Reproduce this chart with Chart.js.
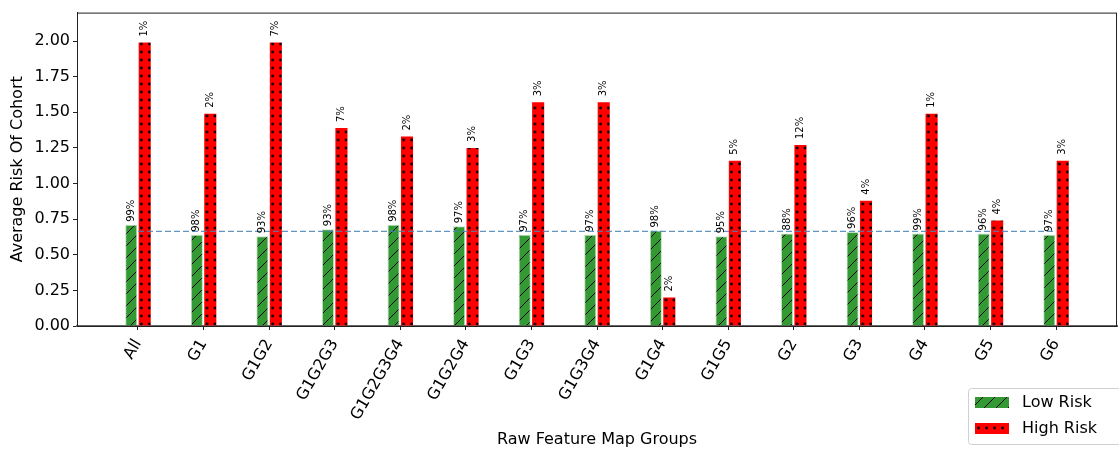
<!DOCTYPE html>
<html>
<head>
<meta charset="utf-8">
<script src="https://cdn.jsdelivr.net/npm/chart.js@4"></script>
<style>
  body { margin: 0; background: #fff; }
  #wrap { width: 1119px; height: 450px; }
</style>
</head>
<body>
<div id="wrap"><canvas id="chart1"></canvas></div>
<script>
var groups = ["All", "G1", "G1G2", "G1G2G3", "G1G2G3G4", "G1G2G4", "G1G3", "G1G3G4",
  "G1G4", "G1G5", "G2", "G3", "G4", "G5", "G6"];
var lowRisk = [0.71, 0.64, 0.63, 0.68, 0.71, 0.70, 0.64, 0.64, 0.67, 0.63, 0.65, 0.66, 0.65, 0.65, 0.64];
var highRisk = [1.99, 1.49, 1.99, 1.39, 1.33, 1.25, 1.57, 1.57, 0.20, 1.16, 1.27, 0.88, 1.49, 0.74, 1.16];
var lowPct = [99, 98, 93, 93, 98, 97, 97, 97, 98, 95, 88, 96, 99, 96, 97];
var highPct = [1, 2, 7, 7, 2, 3, 3, 3, 2, 5, 12, 4, 1, 4, 3];
var meanRisk = 0.664;
var yTicks = [0, 0.25, 0.5, 0.75, 1.0, 1.25, 1.5, 1.75, 2.0];

var FONT = "'DejaVu Sans', sans-serif";

// hatch tiles like matplotlib "/" and "."
var greenTile = document.createElement("canvas");
greenTile.width = 12; greenTile.height = 12;
(function () {
  var g = greenTile.getContext("2d");
  g.fillStyle = "rgba(0,128,0,0.8)";
  g.fillRect(0, 0, 12, 12);
  g.strokeStyle = "#000";
  g.lineWidth = 1;
  g.beginPath();
  g.moveTo(0, 12); g.lineTo(12, 0);
  g.moveTo(-6, 6); g.lineTo(6, -6);
  g.moveTo(6, 18); g.lineTo(18, 6);
  g.stroke();
})();
var redTile = document.createElement("canvas");
redTile.width = 8; redTile.height = 8;
(function () {
  var g = redTile.getContext("2d");
  g.fillStyle = "#ff0000";
  g.fillRect(0, 0, 8, 8);
  g.fillStyle = "#000";
  g.beginPath();
  g.arc(2.5, 4, 1.4, 0, Math.PI * 2);
  g.fill();
})();

var ctx = document.getElementById("chart1");
var c2d = ctx.getContext("2d");
var greenFill = c2d.createPattern(greenTile, "repeat");
var redFill = c2d.createPattern(redTile, "repeat");

// dots anchored to each bar's left edge so every bar gets two columns
function redAt(context) {
  var sx = context.chart.scales.x;
  if (context.type !== "data" || !sx || !sx.width) return redFill;
  var p = c2d.createPattern(redTile, "repeat");
  var left = sx.getPixelForValue(context.dataIndex) + 0.9;
  p.setTransform(new DOMMatrix().translate(left, 0));
  return p;
}

var extras = {
  id: "extras",
  afterDatasetsDraw: function (chart) {
    var ctx = chart.ctx;
    ctx.save();
    ctx.fillStyle = "#000";
    ctx.font = "10px " + FONT;
    ctx.textAlign = "left";
    ctx.textBaseline = "middle";
    [[0, lowPct, 3], [1, highPct, 6]].forEach(function (s) {
      var meta = chart.getDatasetMeta(s[0]);
      meta.data.forEach(function (bar, i) {
        ctx.save();
        ctx.translate(bar.x, bar.y - s[2]);
        ctx.rotate(-Math.PI / 2);
        ctx.fillText(s[1][i] + "%", 0, 0);
        ctx.restore();
      });
    });
    ctx.restore();
  },
  afterDraw: function (chart) {
    var ctx = chart.ctx, a = chart.chartArea;
    ctx.save();
    ctx.strokeStyle = "#222";
    ctx.lineWidth = 1;
    ctx.strokeRect(a.left + 0.5, a.top + 0.5, a.right - a.left - 1, a.bottom - a.top);
    // axis titles
    ctx.fillStyle = "#000";
    ctx.font = "16px " + FONT;
    ctx.textAlign = "center";
    ctx.textBaseline = "middle";
    ctx.fillText("Raw Feature Map Groups", (a.left + a.right) / 2, 440);
    ctx.save();
    ctx.translate(18, (a.top + a.bottom) / 2);
    ctx.rotate(-Math.PI / 2);
    ctx.fillText("Average Risk Of Cohort", 0, 0);
    ctx.restore();
    // legend
    ctx.fillStyle = "rgba(255,255,255,0.8)";
    ctx.strokeStyle = "#d0d0d0";
    ctx.beginPath();
    ctx.roundRect(968.5, 388.5, 160, 56, 3);
    ctx.fill();
    ctx.stroke();
    ctx.fillStyle = greenFill;
    ctx.fillRect(975, 397, 34, 11);
    ctx.fillStyle = redFill;
    ctx.fillRect(975, 423, 34, 11);
    ctx.fillStyle = "#000";
    ctx.textAlign = "left";
    ctx.fillText("Low Risk", 1022, 403);
    ctx.fillText("High Risk", 1022, 429);
    ctx.restore();
  }
};

var myChart = new Chart(ctx, {
  type: "bar",
  data: {
    datasets: [
      {
        label: "Low Risk",
        data: lowRisk.map(function (v, i) { return { x: i, y: v }; }),
        backgroundColor: greenFill,
        borderColor: "rgba(0,128,0,0.25)",
        borderWidth: 1,
        order: 1,
      },
      {
        label: "High Risk",
        data: highRisk.map(function (v, i) { return { x: i, y: v }; }),
        backgroundColor: redAt,
        borderWidth: 0,
        order: 1,
      },
      {
        type: "line",
        label: "mean",
        data: [{ x: 0, y: meanRisk }, { x: groups.length - 1, y: meanRisk }],
        borderColor: "rgba(70,130,180,0.85)",
        borderWidth: 1.2,
        borderDash: [6, 3],
        pointRadius: 0,
        order: 0,
      },
    ],
  },
  options: {
    responsive: true,
    maintainAspectRatio: false,
    animation: false,
    layout: { padding: { top: 10, right: 2, left: 0, bottom: 0 } },
    categoryPercentage: 0.41,
    barPercentage: 0.9,
    plugins: { legend: { display: false }, tooltip: { enabled: false } },
    scales: {
      x: {
        type: "linear",
        offset: false,
        min: -0.93,
        max: groups.length - 1 + 0.93,
        afterBuildTicks: function (scale) {
          scale.ticks = groups.map(function (g, i) { return { value: i }; });
        },
        afterFit: function (scale) { scale.height = 124; },
        grid: { offset: false, drawOnChartArea: false, drawTicks: true, tickLength: 4, color: "#222" },
        border: { color: "#666", width: 2 },
        ticks: {
          minRotation: 60,
          maxRotation: 60,
          autoSkip: false,
          padding: 6,
          color: "#000",
          font: { family: FONT, size: 16 },
          callback: function (v) { return groups[v]; },
        },
      },
      y: {
        min: 0,
        max: 2.2,
        afterBuildTicks: function (scale) {
          scale.ticks = yTicks.map(function (v) { return { value: v }; });
        },
        afterFit: function (scale) { scale.width = 77; },
        grid: { drawOnChartArea: false, drawTicks: true, tickLength: 4, color: "#222" },
        border: { color: "#222" },
        ticks: {
          padding: 3,
          color: "#000",
          font: { family: FONT, size: 16 },
          callback: function (v) { return v.toFixed(2); },
        },
      },
    },
  },
  plugins: [extras],
});
</script>
</body>
</html>
